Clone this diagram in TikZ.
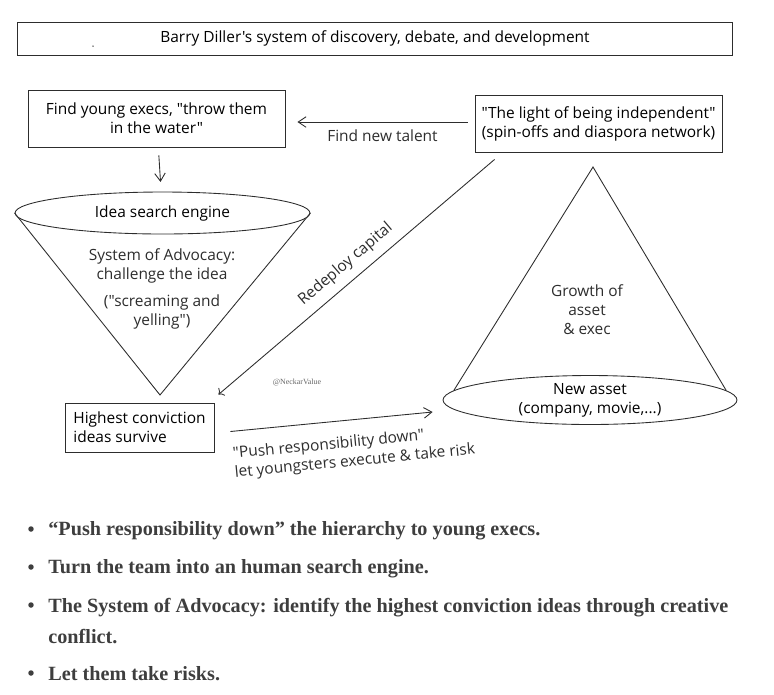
\documentclass[tikz,border=0pt]{standalone}
\usepackage{fontspec}
\newfontfamily\sketchfont{Open Sans}
\newfontfamily\notefont{Liberation Serif}
\usetikzlibrary{shapes.geometric,arrows.meta,positioning,calc}
\definecolor{inkgray}{RGB}{45,45,45}
\definecolor{listgray}{RGB}{62,62,62}

\begin{document}
\begin{tikzpicture}[x=0.02cm, y=-0.02cm,
    sketchbox/.style={rectangle, draw=inkgray, line width=0.5pt,
        font=\sketchfont\fontsize{8.8}{10.8}\selectfont, align=center, inner sep=0pt},
    sketchoval/.style={ellipse, draw=inkgray, line width=0.5pt,
        font=\sketchfont\fontsize{8.8}{10.8}\selectfont, align=center, inner sep=0pt},
    sketchtext/.style={font=\sketchfont\fontsize{8.8}{10.8}\selectfont, align=center, text=inkgray},
    arr/.style={-{Straight Barb[length=4.5pt,width=6pt]}, draw=inkgray, line width=0.5pt},
    conline/.style={draw=inkgray, line width=0.5pt},
    listtext/.style={font=\notefont\bfseries\fontsize{11.5}{17}\selectfont,
        text=listgray, align=left, inner sep=0pt},
    dotmark/.style={circle, fill=listgray, inner sep=0pt, minimum size=0.11cm}
]
    \useasboundingbox (0,0) rectangle (774,694);

    % Title
    \node[sketchbox, minimum width=14.32cm, minimum height=0.66cm] (title) at (375,38.5)
        {Barry Diller's system of discovery, debate, and development};
    \node[circle, fill=inkgray, inner sep=0pt, minimum size=0.03cm] (speck) at (93,46) {};

    % Left side: funnel
    \node[sketchbox, minimum width=5.14cm, minimum height=1.14cm] (young) at (156.5,118.5)
        {Find young execs, "throw them\\in the water"};
    \node[sketchoval, minimum width=5.9cm, minimum height=0.84cm] (search) at (162.5,213)
        {Idea search engine};
    \coordinate (funtip) at (160,395);
    \draw[conline] (search.west) -- (funtip) -- (search.east);
    \node[sketchtext] (advocacy) at (162,266) {System of Advocacy:\\challenge the idea};
    \node[sketchtext] (scream) at (162,312) {("screaming and\\yelling")};
    \node[sketchbox, minimum width=2.98cm, minimum height=0.98cm, align=left]
        (survive) at (139.5,427.5) {Highest conviction\\ideas survive};
    \draw[arr, shorten <=4.5pt, shorten >=5.5pt] (young) -- (search);

    % Right side: cone
    \node[sketchbox, minimum width=4.94cm, minimum height=1.14cm] (indep) at (598.5,123.5)
        {"The light of being independent"\\(spin-offs and diaspora network)};
    \coordinate (apex) at (593,167);
    \node[sketchoval, minimum width=5.88cm, minimum height=0.98cm] (asset) at (590,400)
        {New asset\\(company, movie,...)};
    \draw[conline] (asset.176) -- (apex) -- (asset.4);
    \node[sketchtext] (growth) at (587,310) {Growth of\\asset\\\& exec};

    % Connectors
    \coordinate (talentY) at (0,122);
    \draw[arr] ($(indep.west |- talentY)+(-7,0)$) -- ($(young.east |- talentY)+(12,0)$)
        node[pos=0.5, below=1pt, sketchtext] (talent) {Find new talent};
    \draw[arr, <-] ($(survive.north east)+(4,-8)$) -- ($(indep.south west)+(20,7)$)
        node[pos=0.5, above=1.5pt, sloped, sketchtext] (redeploy) {Redeploy capital};
    \draw[arr] ($(survive.east)+(16,4)$) -- ($(asset.west)+(-10,12)$)
        node[at start, anchor=north west, sloped, sketchtext, align=left, inner sep=0pt,
        yshift=-8.5pt] (push) {"Push responsibility down"\\let youngsters execute \& take risk};
    \node[font=\notefont\fontsize{4.5}{5}\selectfont, text=black!60] (mark) at (297,382)
        {@NeckarValue};

    % Bullet list
    \node[dotmark] (b1) at (31,529) {};
    \node[listtext, anchor=base west] (t1) at (48,535)
        {“Push responsibility down” the hierarchy to young execs.};
    \node[dotmark] (b2) at (31,567) {};
    \node[listtext, anchor=base west] (t2) at (48,573)
        {Turn the team into an human search engine.};
    \node[dotmark] (b3) at (31,605) {};
    \node[listtext, anchor=base west] (t3) at (48,612)
        {The System of Advocacy: identify the highest conviction ideas through creative};
    \node[listtext, anchor=base west] (t3b) at (48,643) {conflict.};
    \node[dotmark] (b4) at (31,673) {};
    \node[listtext, anchor=base west] (t4) at (48,680) {Let them take risks.};
\end{tikzpicture}
\end{document}
